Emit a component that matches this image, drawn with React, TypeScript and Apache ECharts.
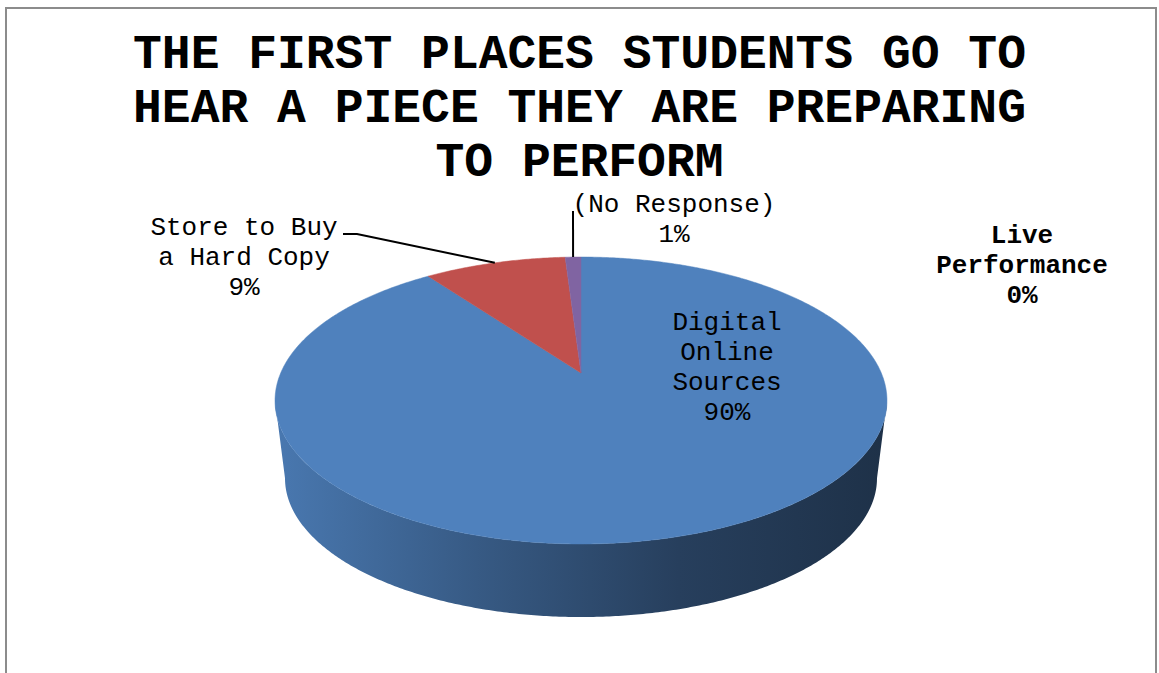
import React, { useEffect, useRef } from "react";
import * as echarts from "echarts";

const titleLines = [
  "THE FIRST PLACES STUDENTS GO TO",
  "HEAR A PIECE THEY ARE PREPARING",
  "TO PERFORM",
];
const categories = [
  "Digital Online Sources",
  "Store to Buy a Hard Copy",
  "(No Response)",
  "Live Performance",
];
const labelLines = [
  ["Digital", "Online", "Sources"],
  ["Store to Buy", "a Hard Copy"],
  ["(No Response)"],
  ["Live", "Performance"],
];
const values = [90, 9, 1, 0];
const colors = ["#4f81bd", "#c0504d", "#8064a2", "#9bbb59"];

// layout / style (not data)
const FONT = '"Liberation Mono", "Courier New", monospace';
const P = {
  cx: 581,
  cy: 373,
  A: 300.3,
  B: 138.2,
  s: 0.1917,
  cyB: 451.6,
  A2: 290.5,
  B2: 133.7,
};
const labelLayout: any[] = [
  { x: 727, y: 368, bold: false },
  { x: 244, y: 258, bold: false, leader: [[343, 234], [357, 234]] },
  { x: 674, y: 220, bold: false, leader: [[573, 211]] },
  { x: 1022, y: 266, bold: true },
];

function proj(theta: number, bottom: boolean): number[] {
  const u = Math.sin(theta);
  const v = Math.cos(theta);
  const w = 1 + P.s * v;
  return bottom
    ? [P.cx + (P.A2 * u) / w, P.cyB - (P.B2 * v) / w]
    : [P.cx + (P.A * u) / w, P.cy - (P.B * v) / w];
}

function shade(hex: string, f: number): string {
  const n = parseInt(hex.slice(1), 16);
  const r = Math.round(((n >> 16) & 255) * f);
  const g = Math.round(((n >> 8) & 255) * f);
  const b = Math.round((n & 255) * f);
  return `rgb(${r},${g},${b})`;
}

function arcPoints(a0: number, a1: number, bottom: boolean): number[][] {
  const pts: number[][] = [];
  const n = Math.max(2, Math.ceil((a1 - a0) / (Math.PI / 360)));
  for (let i = 0; i <= n; i++) pts.push(proj(a0 + ((a1 - a0) * i) / n, bottom));
  return pts;
}

export default function App() {
  const ref = useRef<HTMLDivElement>(null);
  useEffect(() => {
    if (!ref.current) return;
    const chart = echarts.init(ref.current, undefined, { renderer: "svg" });
    const total = values.reduce((a, b) => a + b, 0);
    const starts: number[] = [];
    let acc = 0;
    values.forEach((v) => {
      starts.push(acc);
      acc += v;
    });
    const sL = Math.acos(-P.s);
    const sR = 2 * Math.PI - sL;

    const renderItem = (params: any, api: any) => {
      const i = params.dataIndex;
      const v = api.value(0);
      const a0 = (starts[i] / total) * 2 * Math.PI;
      const a1 = ((starts[i] + v) / total) * 2 * Math.PI;
      const children: any[] = [];
      const color = colors[i % colors.length];
      if (v > 0) {
        const lo = Math.max(a0, sL);
        const hi = Math.min(a1, sR);
        if (hi > lo) {
          const pts = arcPoints(lo, hi, false).concat(arcPoints(lo, hi, true).reverse());
          children.push({
            type: "polygon",
            shape: { points: pts },
            style: {
              fill: new echarts.graphic.LinearGradient(0, 0, 1, 0, [
                { offset: 0, color: shade(color, 0.93) },
                { offset: 0.33, color: shade(color, 0.7) },
                { offset: 0.66, color: shade(color, 0.49) },
                { offset: 1, color: shade(color, 0.38) },
              ]),
              stroke: null,
            },
          });
        }
        const top = [[P.cx, P.cy]].concat(arcPoints(a0, a1, false));
        children.push({
          type: "polygon",
          shape: { points: top },
          style: { fill: color, stroke: color, lineWidth: 0.5 },
        });
      }
      const lay = labelLayout[i];
      const pct = Math.round((v / total) * 100) + "%";
      if (lay.leader) {
        const mid = proj((a0 + a1) / 2, false);
        children.push({
          type: "polyline",
          shape: { points: [...lay.leader, mid] },
          style: { stroke: "#000", lineWidth: 2, fill: null },
        });
      }
      children.push({
        type: "text",
        style: {
          text: labelLines[i].concat([pct]).join("\n"),
          x: lay.x,
          y: lay.y,
          fill: "#000",
          fontFamily: FONT,
          fontSize: 26,
          fontWeight: lay.bold ? "bold" : "normal",
          lineHeight: 30,
          align: "center",
          verticalAlign: "middle",
        },
      });
      return { type: "group", children };
    };

    chart.setOption({
      animation: false,
      backgroundColor: "#ffffff",
      title: {
        text: titleLines.join("\n"),
        left: "center",
        top: 28,
        padding: 0,
        textStyle: {
          fontFamily: FONT,
          fontWeight: "bold",
          fontSize: 48,
          lineHeight: 54,
          color: "#000",
        },
      },
      graphic: [
        {
          type: "rect",
          shape: { x: 6, y: 8, width: 1150, height: 700 },
          style: { fill: "none", stroke: "#8c8c8c", lineWidth: 2 },
          silent: true,
        },
      ],
      series: [
        {
          type: "custom",
          coordinateSystem: "none",
          silent: true,
          data: values.map((v, i) => ({ name: categories[i], value: v })),
          renderItem,
        },
      ],
    });
    return () => chart.dispose();
  }, []);
  return (
    <div
      ref={ref}
      style={{ position: "absolute", left: 0, top: 0, width: 1159, height: 673, background: "#fff" }}
    />
  );
}
